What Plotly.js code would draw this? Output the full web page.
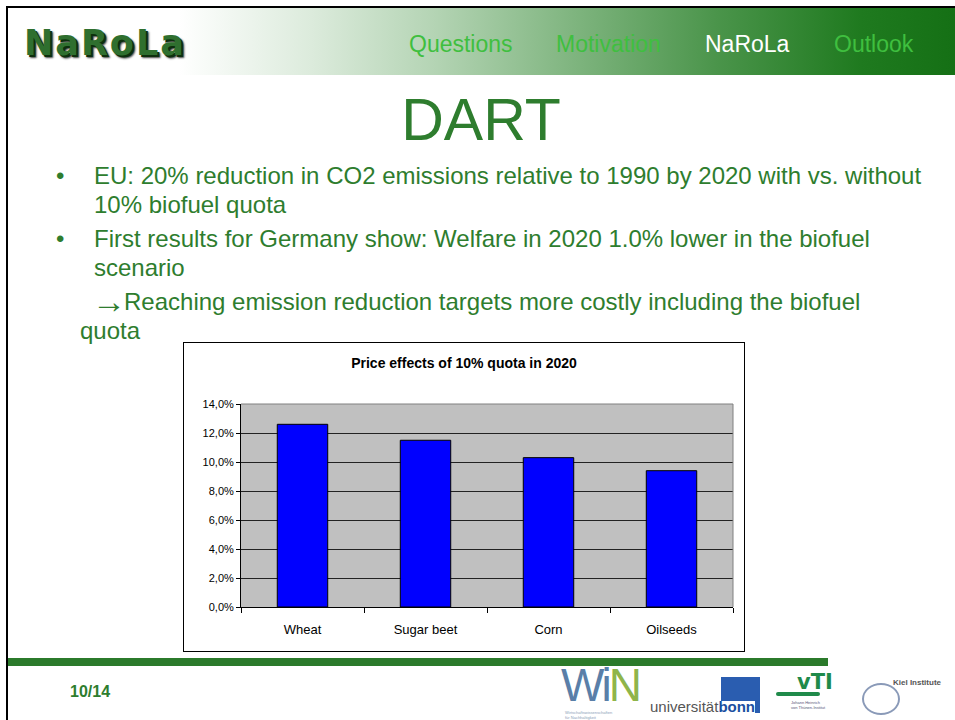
<!DOCTYPE html>
<html>
<head>
<meta charset="utf-8">
<script src="https://cdn.plot.ly/plotly-3.0.1.min.js"></script>
<style>
  html, body { margin:0; padding:0; width:955px; height:720px; overflow:hidden; background:#fff; font-family:"Liberation Sans", Arial, sans-serif; }
  .abs { position:absolute; }
  #frameTop { left:6px; top:6px; width:949px; height:2px; background:#000; }
  #frameLeft { left:6px; top:6px; width:2px; height:714px; background:#000; }
  #header { left:8px; top:8px; width:947px; height:67px;
    background: linear-gradient(to right, #ffffff 0%, #ffffff 18%, #dcebdc 32%, #b4d4b4 45%, #7eb47e 60%, #4a944a 75%, #1f7a1f 90%, #157015 100%); }
  #logo { left:24px; top:23px; font-family:"DejaVu Sans", sans-serif; font-weight:bold; font-size:35px; color:#2f6f2f; letter-spacing:2px;
    text-shadow: 2px 2px 0 #0d2f0d, 3px 3px 2px #444; }
  .menu { top:31px; font-family:"Liberation Sans Narrow","Liberation Sans",Arial,sans-serif; font-size:23px; color:#3fbf3f; }
  #title { left:0; width:962px; top:86px; text-align:center; font-size:59px; color:#2e7d2e; }
  .txt { font-size:24px; color:#2e7d2e; line-height:29px; white-space:nowrap; }
  #chartBox { left:183px; top:342px; width:562px; height:310px; border:1px solid #000; background:#fff; box-sizing:border-box; }
  #chart { width:560px; height:308px; }
  #footBar { left:8px; top:658px; width:820px; height:8px; background:#2b7a2b; }
  #page { left:70px; top:683px; font-size:16px; font-weight:bold; color:#2e7d2e; }
  #arrow { left:92px; top:287px; font-size:34px; line-height:29px; font-weight:bold; }
</style>
</head>
<body>
<div id="frameTop" class="abs"></div>
<div id="frameLeft" class="abs"></div>
<div id="header" class="abs"></div>
<div id="logo" class="abs">NaRoLa</div>
<div class="abs menu" style="left:409px;">Questions</div>
<div class="abs menu" style="left:556px;">Motivation</div>
<div class="abs menu" style="left:705px;color:#ffffff;">NaRoLa</div>
<div class="abs menu" style="left:834px;">Outlook</div>
<div id="title" class="abs">DART</div>

<div class="abs txt" style="left:56px;top:161px;">•</div>
<div class="abs txt" style="left:94px;top:161px;">EU: 20% reduction in CO2 emissions relative to 1990 by 2020 with vs. without<br>10% biofuel quota</div>
<div class="abs txt" style="left:56px;top:224px;">•</div>
<div class="abs txt" style="left:94px;top:224px;">First results for Germany show: Welfare in 2020 1.0% lower in the biofuel<br>scenario</div>
<div id="arrow" class="abs txt">→</div>
<div class="abs txt" style="left:124px;top:287px;">Reaching emission reduction targets more costly including the biofuel</div>
<div class="abs txt" style="left:80px;top:316px;">quota</div>

<div id="chartBox" class="abs"><div id="chart"></div></div>

<div id="footBar" class="abs"></div>
<div id="page" class="abs">10/14</div>

<!-- partner logos (approximated) -->
<div class="abs" style="left:561px;top:664px;font-size:46px;font-family:'Liberation Sans',Arial,sans-serif;line-height:42px;letter-spacing:-3px;"><span style="color:#5a7fa8">Wi</span><span style="color:#8fb54a">N</span></div>
<div class="abs" style="left:565px;top:710px;font-size:4px;line-height:5px;color:#8aa0b8;">Wirtschaftswissenschaften<br>für Nachhaltigkeit</div>
<div class="abs" style="left:721px;top:677px;width:39px;height:24px;background:#2a5db0;"></div>
<div class="abs" style="left:755px;top:700px;width:5px;height:13px;background:#2a5db0;"></div>
<div class="abs" style="left:650px;top:699px;font-size:15px;line-height:16px;color:#555;">universität<span style="color:#1a4fa0;font-weight:bold;">bonn</span></div>
<div class="abs" style="left:797px;top:670px;font-size:21px;font-weight:bold;color:#1f8a4a;font-family:'DejaVu Sans',sans-serif;">vTI</div>
<div class="abs" style="left:776px;top:692px;width:44px;height:4px;background:#1f8a4a;border-radius:2px;"></div>
<div class="abs" style="left:791px;top:700px;font-size:4px;line-height:5px;color:#557;">Johann Heinrich<br>von Thünen-Institut</div>
<div class="abs" style="left:862px;top:683px;width:34px;height:28px;border:2px solid #8a9ab8;border-radius:50%;"></div>
<div class="abs" style="left:893px;top:678px;font-size:8px;font-weight:bold;color:#555;">Kiel Institute</div>

<script>
  const categories = ["Wheat", "Sugar beet", "Corn", "Oilseeds"];
  const values = [0.126, 0.115, 0.103, 0.094];
  const chartTitle = "Price effects of 10% quota in 2020";
  const tickVals = [0, 0.02, 0.04, 0.06, 0.08, 0.10, 0.12, 0.14];
  const tickText = ["0,0%", "2,0%", "4,0%", "6,0%", "8,0%", "10,0%", "12,0%", "14,0%"];

  const trace = {
    type: "bar",
    x: categories,
    y: values,
    marker: { color: "#0000ff", line: { color: "#000000", width: 1 } },
    hoverinfo: "skip"
  };

  const layout = {
    width: 560, height: 308,
    margin: { l: 57, r: 11, t: 61, b: 44 },
    paper_bgcolor: "#ffffff",
    plot_bgcolor: "#c0c0c0",
    bargap: 0.59,
    showlegend: false,
    font: { family: "Liberation Sans, Arial, sans-serif", color: "#000" },
    title: { text: "<b>" + chartTitle + "</b>", font: { size: 14, color: "#000" }, x: 0.5, xanchor: "center", y: 0.935, yanchor: "middle" },
    xaxis: {
      type: "category",
      showline: true, linecolor: "#000", linewidth: 1,
      ticks: "outside", tickson: "boundaries", ticklen: 5, tickcolor: "#000",
      ticklabelstandoff: 10,
      tickfont: { size: 13 },
      showgrid: false, zeroline: false, fixedrange: true
    },
    yaxis: {
      range: [0, 0.14],
      tickvals: tickVals, ticktext: tickText,
      tickfont: { size: 11 },
      showline: true, linecolor: "#000", linewidth: 1,
      ticks: "outside", ticklen: 4, tickcolor: "#000",
      showgrid: true, gridcolor: "#222", gridwidth: 1,
      zeroline: false, fixedrange: true
    },
    shapes: [
      { type: "line", xref: "paper", yref: "paper", x0: 0, x1: 1, y0: 1, y1: 1, line: { color: "#808080", width: 1 } },
      { type: "line", xref: "paper", yref: "paper", x0: 1, x1: 1, y0: 0, y1: 1, line: { color: "#808080", width: 1 } }
    ]
  };

  Plotly.newPlot("chart", [trace], layout, { displayModeBar: false, staticPlot: true });
</script>
</body>
</html>
